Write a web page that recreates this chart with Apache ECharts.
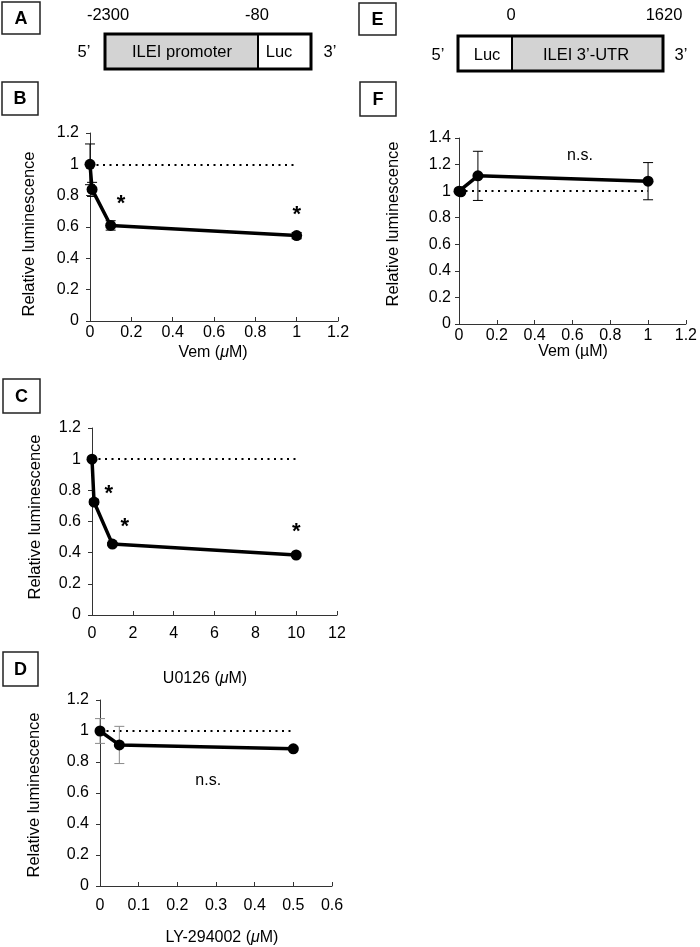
<!DOCTYPE html>
<html>
<head>
<meta charset="utf-8">
<script src="https://cdn.jsdelivr.net/npm/echarts@6/dist/echarts.min.js"></script>
<style>
html,body{margin:0;padding:0;background:#fff;}
#c{width:700px;height:947px;}
</style>
</head>
<body>
<div id="c"></div>
<script>
// ---- data ----
const bX = [0, 0.01, 0.1, 1];
const bY = [1.0, 0.84, 0.61, 0.545];
const bErr = [0.13, 0.045, 0.03, 0.02];
const bStars = [[0.15, 0.745], [1, 0.68]];

const cX = [0, 0.1, 1, 10];
const cY = [1.0, 0.725, 0.455, 0.385];
const cErr = [0.01, 0.015, 0.01, 0.01];
const cStars = [[0.82, 0.775], [1.6, 0.565], [10, 0.535]];

const dX = [0, 0.05, 0.5];
const dY = [1.0, 0.91, 0.885];
const dErr = [0.08, 0.12, 0.01];
const dNS = [[0.28, 0.68]];

const fX = [0, 0.01, 0.1, 1];
const fY = [1.0, 0.995, 1.115, 1.075];
const fErr = [0.01, 0.01, 0.185, 0.14];
const fNS = [[0.64, 1.27]];

const bTicksX = {min: 0, max: 1.2, interval: 0.2};
const cTicksX = {min: 0, max: 12, interval: 2};
const dTicksX = {min: 0, max: 0.6, interval: 0.1};
const fTicksX = {min: 0, max: 1.2, interval: 0.2};
const yTicks = {min: 0, max: 1.2, interval: 0.2};
const fTicksY = {min: 0, max: 1.4, interval: 0.2};

// ---- build ----
const FONT = '"Liberation Sans", Arial, sans-serif';
const grids = [
  {left: 90, top: 133, width: 248, height: 188},
  {left: 92, top: 428, width: 245, height: 187},
  {left: 100, top: 700, width: 232, height: 186},
  {left: 459, top: 138, width: 230, height: 186}
];
const xT = [bTicksX, cTicksX, dTicksX, fTicksX];
const yT = [yTicks, yTicks, yTicks, fTicksY];
const xMargins = [4, 11, 12, 4];
const yMargins = [11, 11, 11, 8];

const xAxes = xT.map((t, i) => ({
  type: 'value', gridIndex: i, min: t.min, max: t.max, interval: t.interval,
  axisLine: {show: true, onZero: false, lineStyle: {color: '#333', width: 1}},
  axisTick: {show: true, inside: true, length: 4, lineStyle: {color: '#333'}},
  splitLine: {show: false},
  axisLabel: {color: '#000', fontSize: 16, fontFamily: FONT, margin: xMargins[i]}
}));
const yAxes = yT.map((t, i) => ({
  type: 'value', gridIndex: i, min: t.min, max: t.max, interval: t.interval,
  axisLine: {show: true, onZero: false, lineStyle: {color: '#333', width: 1}},
  axisTick: {show: true, inside: false, length: 4, lineStyle: {color: '#333'}},
  splitLine: {show: false},
  axisLabel: {color: '#000', fontSize: 16, fontFamily: FONT, margin: yMargins[i]}
}));

const sets = [
  {x: bX, y: bY, e: bErr, ecol: '#000', stars: bStars, ns: []},
  {x: cX, y: cY, e: cErr, ecol: '#000', stars: cStars, ns: []},
  {x: dX, y: dY, e: dErr, ecol: '#8a8a8a', stars: [], ns: dNS},
  {x: fX, y: fY, e: fErr, ecol: '#000', stars: [], ns: fNS}
];

const series = [];
sets.forEach((s, i) => {
  const xmax = s.x[s.x.length - 1];
  series.push({
    type: 'custom', xAxisIndex: i, yAxisIndex: i, z: 3,
    data: s.x.map((x, k) => [x, s.y[k] - s.e[k], s.y[k] + s.e[k]]),
    renderItem: function (params, api) {
      const lo = api.coord([api.value(0), api.value(1)]);
      const hi = api.coord([api.value(0), api.value(2)]);
      const w = 5;
      const st = {stroke: s.ecol, lineWidth: 1, fill: null};
      return {type: 'group', children: [
        {type: 'line', shape: {x1: lo[0], y1: lo[1], x2: hi[0], y2: hi[1]}, style: st},
        {type: 'line', shape: {x1: lo[0] - w, y1: lo[1], x2: lo[0] + w, y2: lo[1]}, style: st},
        {type: 'line', shape: {x1: hi[0] - w, y1: hi[1], x2: hi[0] + w, y2: hi[1]}, style: st}
      ]};
    }
  });
  series.push({
    type: 'line', xAxisIndex: i, yAxisIndex: i, z: 4,
    data: s.x.map((x, k) => [x, s.y[k]]),
    symbol: 'circle', symbolSize: 11, showSymbol: true,
    itemStyle: {color: '#000'},
    lineStyle: {color: '#000', width: 3.5},
    markLine: {
      silent: true, symbol: 'none', z: 1,
      label: {show: false},
      lineStyle: {color: '#000', type: [2, 4.5], width: 1.8},
      data: [[{coord: [0, 1]}, {coord: [xmax, 1]}]]
    }
  });
  if (s.stars.length) series.push({
    type: 'scatter', xAxisIndex: i, yAxisIndex: i, symbolSize: 0, z: 5,
    itemStyle: {opacity: 1},
    data: s.stars,
    label: {show: true, position: 'inside', formatter: '*', color: '#000', fontSize: 22, fontWeight: 'bold', fontFamily: FONT, textBorderWidth: 0}
  });
  if (s.ns.length) series.push({
    type: 'scatter', xAxisIndex: i, yAxisIndex: i, symbolSize: 0, z: 5,
    itemStyle: {opacity: 1},
    data: s.ns,
    label: {show: true, position: 'inside', formatter: 'n.s.', color: '#000', fontSize: 16, fontFamily: FONT, textBorderWidth: 0}
  });
});

// ---- graphics (schematics, panel letters, axis titles) ----
const g = [];
function box(letter, x, y, w, h) {
  g.push({type: 'rect', shape: {x: x, y: y, width: w, height: h}, style: {fill: '#fff', stroke: '#222', lineWidth: 1.5}});
  g.push({type: 'text', x: x + w / 2, y: y + h / 2 + 1, style: {text: letter, fontSize: 18, fontWeight: 'bold', fontFamily: FONT, fill: '#000', align: 'center', verticalAlign: 'middle'}});
}
box('A', 2, 2, 38, 32);
box('B', 2, 82, 36, 33);
box('C', 3, 379, 37, 34);
box('D', 3, 652, 35, 34);
box('E', 359, 3, 37, 32);
box('F', 360, 82, 36, 34);

function txt(t, x, y, size, rot) {
  g.push({type: 'text', x: x, y: y, rotation: rot || 0,
    style: {text: t, fontSize: size || 16, fontFamily: FONT, fill: '#000', align: 'center', verticalAlign: 'middle'}});
}
function rtxt(parts, x, y) {
  g.push({type: 'text', x: x, y: y, style: {
    text: parts, fill: '#000', align: 'center', verticalAlign: 'middle', fontSize: 16, fontFamily: FONT,
    rich: {n: {fontSize: 16, fontFamily: FONT, fill: '#000'}, i: {fontSize: 16, fontFamily: FONT, fontStyle: 'italic', fill: '#000'}}
  }});
}

// Schematic A
g.push({type: 'rect', shape: {x: 105, y: 34, width: 153, height: 35}, style: {fill: '#d3d3d3', stroke: null}});
g.push({type: 'rect', shape: {x: 105, y: 34, width: 206, height: 35}, style: {fill: null, stroke: '#000', lineWidth: 3}});
g.push({type: 'line', shape: {x1: 258, y1: 34, x2: 258, y2: 69}, style: {stroke: '#000', lineWidth: 2}});
txt('-2300', 108, 15, 16.5);
txt('-80', 257, 15, 16.5);
txt('5’', 84, 52, 16.5);
txt('3’', 330, 52, 16.5);
txt('ILEI promoter', 182, 52, 16.5);
txt('Luc', 279, 52, 16.5);

// Schematic E
g.push({type: 'rect', shape: {x: 512, y: 36, width: 151, height: 35}, style: {fill: '#d3d3d3', stroke: null}});
g.push({type: 'rect', shape: {x: 458, y: 36, width: 205, height: 35}, style: {fill: null, stroke: '#000', lineWidth: 3}});
g.push({type: 'line', shape: {x1: 512, y1: 36, x2: 512, y2: 71}, style: {stroke: '#000', lineWidth: 2}});
txt('0', 511, 15, 16.5);
txt('1620', 664, 15, 16.5);
txt('5’', 438, 55, 16.5);
txt('3’', 681, 55, 16.5);
txt('Luc', 487, 55, 16.5);
txt('ILEI 3’-UTR', 586, 55, 16.5);

// axis titles
txt('Relative luminescence', 29, 234, 16.5, Math.PI / 2);
txt('Relative luminescence', 35, 517, 16.5, Math.PI / 2);
txt('Relative luminescence', 34, 795, 16.5, Math.PI / 2);
txt('Relative luminescence', 393, 224, 16.5, Math.PI / 2);
rtxt('{n|Vem (}{i|μ}{n|M)}', 213, 353);
rtxt('{n|U0126 (}{i|μ}{n|M)}', 205, 679);
rtxt('{n|LY-294002 (}{i|μ}{n|M)}', 222, 938);
txt('Vem (µM)', 573, 352, 16);

const chart = echarts.init(document.getElementById('c'), null, {renderer: 'canvas'});
chart.setOption({
  animation: false,
  backgroundColor: '#fff',
  grid: grids,
  xAxis: xAxes,
  yAxis: yAxes,
  series: series,
  graphic: {elements: g}
});
</script>
</body>
</html>
